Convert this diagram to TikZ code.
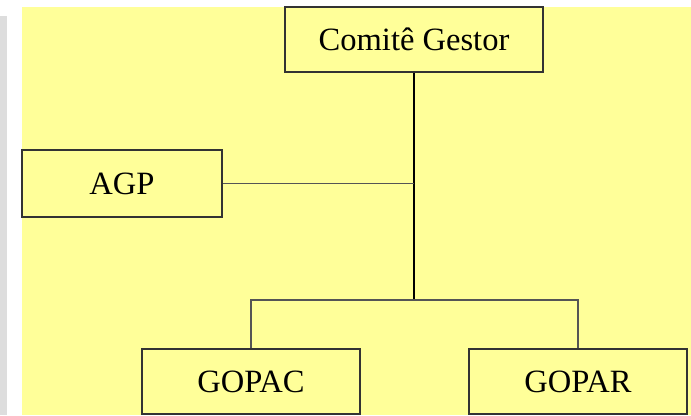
\documentclass[tikz,border=0pt]{standalone}
\usepackage{fontspec}
\setmainfont{Liberation Serif}
\definecolor{bgyellow}{HTML}{FFFF99}
\definecolor{stripgray}{HTML}{DDDDDD}
\definecolor{boxline}{HTML}{333333}
\definecolor{thinline}{HTML}{555555}
\tikzset{
  orgbox/.style={draw=boxline, line width=0.9pt, fill=bgyellow, inner sep=0pt,
    font=\fontsize{24.4pt}{28pt}\selectfont},
  mainline/.style={draw=black, line width=1.6pt},
  subline/.style={draw=thinline, line width=0.8pt}
}
\begin{document}
\begin{tikzpicture}[x=0.75pt,y=-0.75pt]
\useasboundingbox (0,0) rectangle (691,415);
\fill[white] (0,0) rectangle (691,415);
\fill[stripgray] (0,16) rectangle (7,415);
\fill[bgyellow] (22,7) rectangle (691,415);
\coordinate (j) at (414,300);
\node[orgbox, minimum width=193.5pt, minimum height=48.75pt] (cg) at (414,39.5) {Comitê Gestor};
\node[orgbox, minimum width=150pt, minimum height=50.25pt] (agp) at (122,183.5) {AGP};
\node[orgbox, minimum width=163.5pt, minimum height=48.75pt] (gopac) at (251,381.5) {GOPAC};
\node[orgbox, minimum width=163.5pt, minimum height=48.75pt] (gopar) at (578,381.5) {GOPAR};
\draw[mainline] (cg.south) -- (j);
\draw[subline] (agp.east) -- (agp.east -| cg.south);
\draw[subline] (gopac.north) |- (j) -| (gopar.north);
\end{tikzpicture}
\end{document}
